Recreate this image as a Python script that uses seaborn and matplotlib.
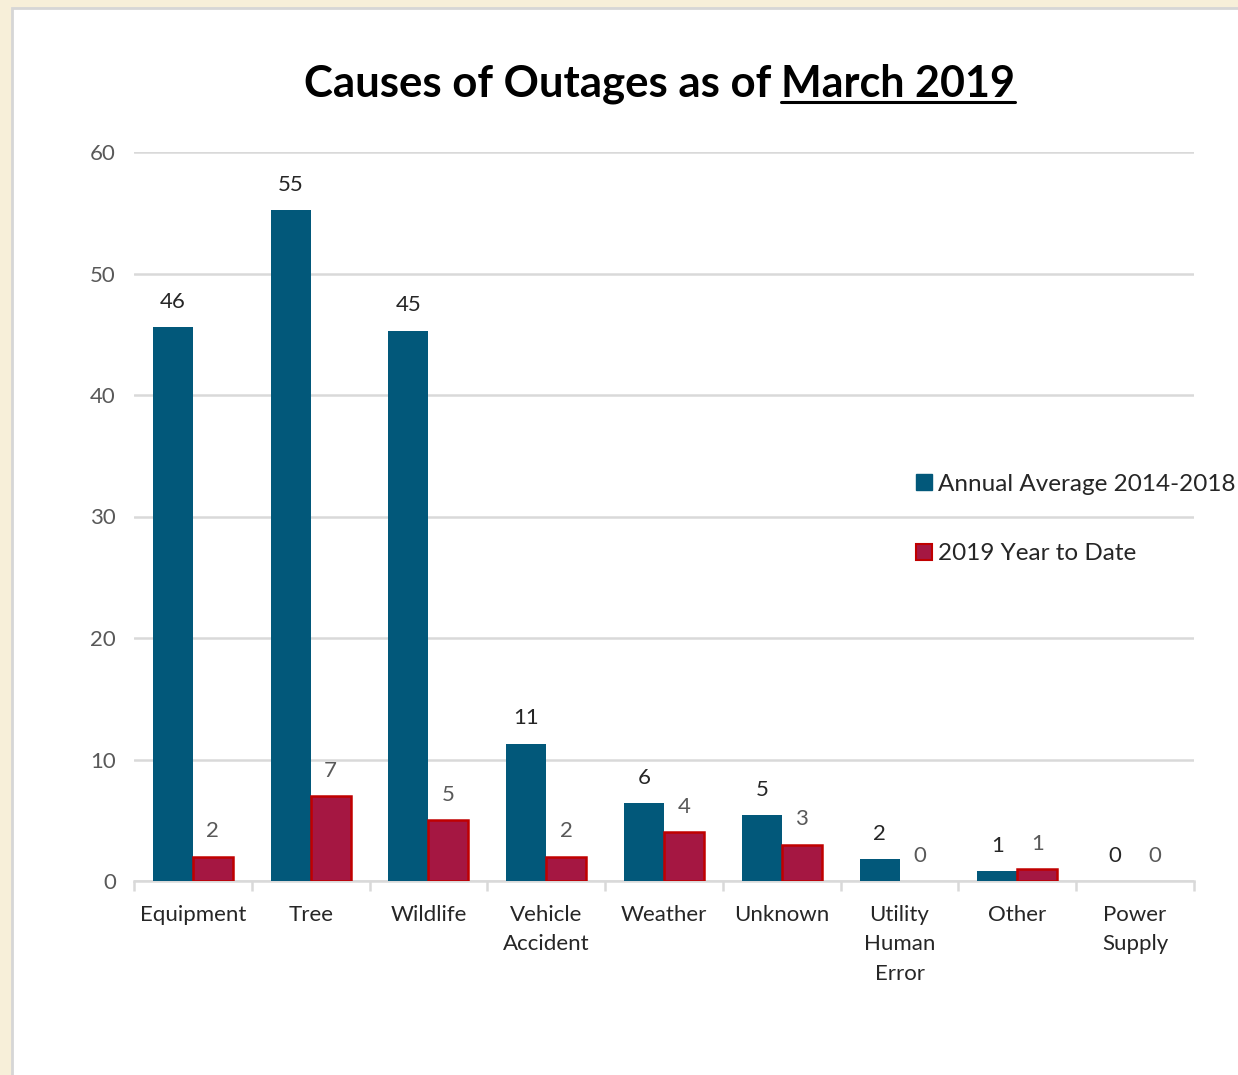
import matplotlib
matplotlib.use("Agg")
import matplotlib.pyplot as plt
import matplotlib.patches as mpatches
from matplotlib.lines import Line2D
import pandas as pd
import seaborn as sns

categories = ["Equipment", "Tree", "Wildlife", "Vehicle\nAccident", "Weather",
              "Unknown", "Utility\nHuman\nError", "Other", "Power\nSupply"]
annual_avg = [45.6, 55.2, 45.3, 11.3, 6.4, 5.4, 1.8, 0.8, 0.0]
ytd_2019 = [2, 7, 5, 2, 4, 3, 0, 1, 0]
series_names = ["Annual Average 2014-2018", "2019 Year to Date"]

blue = "#02587A"
red = "#A51742"
red_edge = "#C00000"

df = pd.DataFrame({
    "cause": categories * 2,
    "count": annual_avg + ytd_2019,
    "series": [series_names[0]] * len(categories) + [series_names[1]] * len(categories),
})

sns.set_theme(style="white")
plt.rcParams["font.family"] = ["Lato", "DejaVu Sans"]

fig = plt.figure(figsize=(12.38, 10.75), dpi=100)
fig.patch.set_facecolor("#F7EFD9")
fig.patches.append(mpatches.Rectangle((12 / 1238, -0.1), 1.2, 1 - 8 / 1075 + 0.1,
                                      transform=fig.transFigure, facecolor="white",
                                      edgecolor="#D6D6D6", linewidth=2, zorder=-5))

ax = fig.add_axes([134 / 1238, 1 - 881 / 1075, (1194 - 134) / 1238, (881 - 152) / 1075])
ax.set_facecolor("none")

sns.barplot(data=df, x="cause", y="count", hue="series", palette=[blue, red],
            width=0.68, saturation=1, ax=ax, legend=False, zorder=3)

# edges only on the red bars that have height
for cont, col in zip(ax.containers, [blue, red_edge]):
    for p in cont:
        if col == red_edge and p.get_height() > 0:
            p.set_edgecolor(red_edge)
            p.set_linewidth(1.8)
        else:
            p.set_linewidth(0)

label_sets = [[str(round(v)) for v in annual_avg], [str(v) for v in ytd_2019]]
label_colors = ["#262626", "#595959"]
for cont, labs, c in zip(ax.containers, label_sets, label_colors):
    ax.bar_label(cont, labels=labs, padding=11, fontsize=16, color=c)

ax.set_ylim(0, 60)
ax.set_xlim(-0.5, len(categories) - 0.5)
ax.set_yticks(range(0, 61, 10))
ax.yaxis.grid(True, color="#D9D9D9", linewidth=1.8, zorder=0)
ax.set_axisbelow(True)
for s in ["top", "right", "left"]:
    ax.spines[s].set_visible(False)
ax.spines["bottom"].set_color("#D9D9D9")
ax.spines["bottom"].set_linewidth(1.8)
ax.spines["bottom"].set_zorder(2)

ax.set_xticks([i - 0.5 for i in range(len(categories) + 1)], minor=True)
ax.tick_params(axis="x", which="minor", length=7, width=1.8, color="#D9D9D9", bottom=True)
ax.tick_params(axis="x", which="major", length=0, pad=17, labelsize=16,
               labelcolor="#262626")
ax.tick_params(axis="y", length=0, pad=13, labelsize=16, labelcolor="#595959")
for t in ax.get_xticklabels():
    t.set_linespacing(1.6)
ax.set_xlabel("")
ax.set_ylabel("")

handles = [mpatches.Patch(facecolor=blue, edgecolor=blue, label=series_names[0]),
           mpatches.Patch(facecolor=red, edgecolor=red_edge, linewidth=1.5,
                          label=series_names[1])]
fig.legend(handles=handles, loc="upper left", bbox_to_anchor=(894 / 1238, 1 - 452 / 1075),
           frameon=False, fontsize=17.5, handlelength=0.65, handleheight=0.65,
           handletextpad=0.25, labelspacing=2.0, labelcolor="#262626")

title_y = 1 - 84 / 1075
fig.text(771 / 1238, title_y, "Causes of Outages as of", ha="right", va="center",
         fontsize=31.5, fontweight="bold", color="black")
t2 = fig.text(781 / 1238, title_y, "March 2019", ha="left", va="center",
              fontsize=31, fontweight="bold", color="black")

fig.canvas.draw()
bb = t2.get_window_extent().transformed(fig.transFigure.inverted())
uy = bb.y0 + 0.002
fig.lines.append(Line2D([bb.x0, bb.x1], [uy, uy], transform=fig.transFigure,
                        color="black", linewidth=2.2))

fig.savefig("out.png", dpi=100)
